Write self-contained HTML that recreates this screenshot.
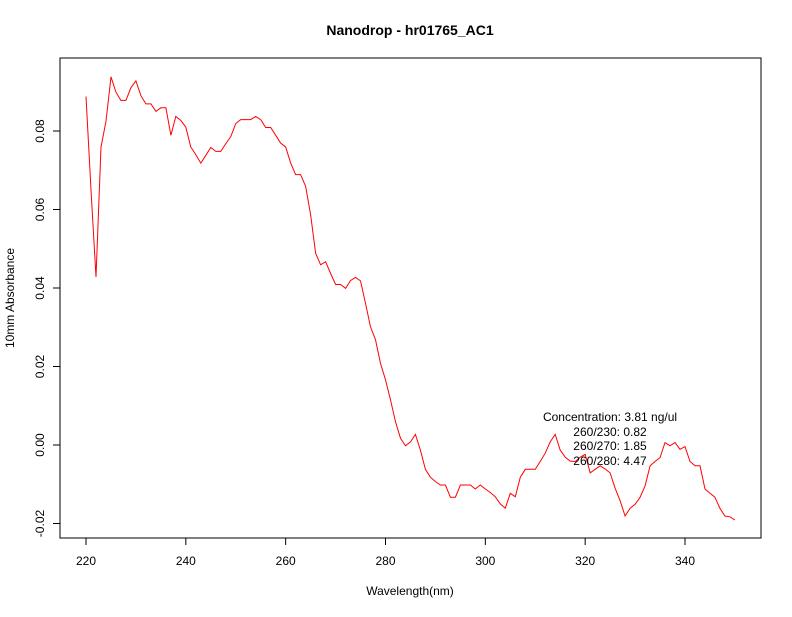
<!DOCTYPE html>
<html><head><meta charset="utf-8"><style>
body{margin:0;background:#fff}
svg text{font-family:"Liberation Sans",sans-serif;fill:#000}
</style></head><body>
<svg width="792" height="612" viewBox="0 0 792 612">
<text x="410" y="35" font-size="14" font-weight="bold" text-anchor="middle">Nanodrop - hr01765_AC1</text>
<rect x="60" y="58" width="701" height="480" fill="none" stroke="#000" stroke-width="1"/>
<g id="xaxis"></g>
<g id="yaxis"></g>
<path id="series" fill="none" stroke="#ff0000" stroke-width="1"/>
<text x="410" y="595" font-size="12" text-anchor="middle">Wavelength(nm)</text>
<text x="14" y="298" font-size="12" text-anchor="middle" transform="rotate(-90 14 298)">10mm Absorbance</text>
<g font-size="12" text-anchor="middle">
<text x="610" y="421">Concentration: 3.81 ng/ul</text>
<text x="610" y="436">260/230: 0.82</text>
<text x="610" y="450">260/270: 1.85</text>
<text x="610" y="465">260/280: 4.47</text>
</g>
</svg>
<script>
const startNm = 220;
const absorbance = [0.0888,0.065,0.0428,0.0759,0.0825,0.0938,0.0899,0.0878,0.0878,0.0910,0.0928,0.0890,0.0869,0.0869,0.0850,0.0859,0.0859,0.0789,0.0837,0.0827,0.0810,0.0759,0.0740,0.0718,0.0738,0.0758,0.0748,0.0748,0.0768,0.0786,0.0819,0.0829,0.0829,0.0829,0.0837,0.0829,0.0809,0.0809,0.0789,0.0769,0.0759,0.0718,0.0689,0.0689,0.0659,0.0587,0.0489,0.0459,0.0467,0.0437,0.0409,0.0409,0.0399,0.0419,0.0427,0.0418,0.0361,0.0301,0.0268,0.0208,0.0166,0.0115,0.0059,0.0017,-0.0002,0.0008,0.0027,-0.0013,-0.0062,-0.0082,-0.0093,-0.0102,-0.0102,-0.0133,-0.0133,-0.0102,-0.0102,-0.0102,-0.0112,-0.0102,-0.0112,-0.0121,-0.0132,-0.0150,-0.0161,-0.0123,-0.0132,-0.0082,-0.0062,-0.0062,-0.0062,-0.0042,-0.0021,0.0008,0.0027,-0.0013,-0.0031,-0.0041,-0.0042,-0.0031,-0.0024,-0.0071,-0.0062,-0.0053,-0.0061,-0.0071,-0.0110,-0.0142,-0.0181,-0.0161,-0.0151,-0.0133,-0.0104,-0.0053,-0.0042,-0.0032,0.0006,-0.0002,0.0006,-0.0011,-0.0004,-0.0042,-0.0053,-0.0053,-0.0112,-0.0123,-0.0133,-0.0161,-0.0181,-0.0183,-0.0191];
const xTicks = [220,240,260,280,300,320,340];
const yTicks = [-0.02,0.00,0.02,0.04,0.06,0.08];
const yTickLabels = ["-0.02","0.00","0.02","0.04","0.06","0.08"];
const NS="http://www.w3.org/2000/svg";
function xs(v){return 86+(v-220)*(599/120);}
function ys(v){return 445-v*(314/0.08);}
const xa=document.getElementById('xaxis');
const ya=document.getElementById('yaxis');
function mk(tag,attrs,parent){const e=document.createElementNS(NS,tag);for(const k in attrs)e.setAttribute(k,attrs[k]);parent.appendChild(e);return e;}
mk('line',{x1:xs(xTicks[0]),x2:xs(xTicks[xTicks.length-1]),y1:538,y2:538,stroke:'#000'},xa);
xTicks.forEach(t=>{
  const l=mk('line',{x1:xs(t),x2:xs(t),y1:538,y2:545,stroke:'#000'},xa);
  
  
  const tx=mk('text',{x:xs(t),y:565,'font-size':12,'text-anchor':'middle'},xa);
  tx.textContent=t;
  
  
});
mk('line',{x1:60,x2:60,y1:ys(yTicks[0]),y2:ys(yTicks[yTicks.length-1]),stroke:'#000'},ya);
yTicks.forEach((t,i)=>{
  const y=ys(t);
  const l=mk('line',{x1:53,x2:60,y1:y,y2:y,stroke:'#000'},ya);
  
  
  const tx=mk('text',{x:44,y:y,'font-size':12,'text-anchor':'middle',transform:`rotate(-90 44 ${y})`},ya);
  tx.textContent=yTickLabels[i];
  
  
});
document.getElementById('series').setAttribute('d',absorbance.map((v,i)=>(i?'L':'M')+xs(startNm+i).toFixed(1)+' '+ys(v).toFixed(1)).join(' '));
</script>
</body></html>
